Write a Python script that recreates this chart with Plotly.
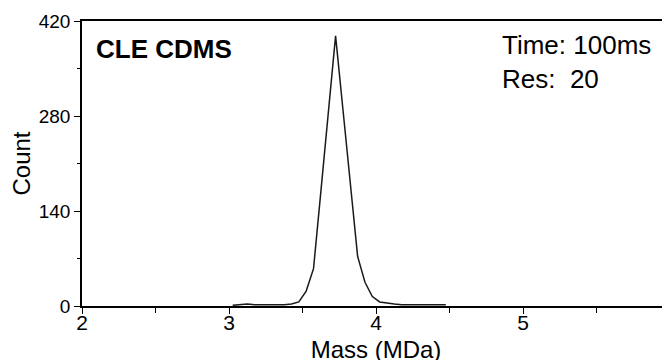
import plotly.graph_objects as go

mass = [3.025, 3.075, 3.125, 3.175, 3.225, 3.275, 3.325, 3.375, 3.425, 3.475,
        3.525, 3.575, 3.625, 3.675, 3.725, 3.775, 3.825, 3.875, 3.925, 3.975,
        4.025, 4.075, 4.125, 4.175, 4.225, 4.275, 4.325, 4.375, 4.425, 4.475]
count = [1, 2, 3, 2, 2, 2, 1, 2, 3, 6,
         22, 55, 169, 284, 398, 290, 182, 73, 35, 14,
         6, 4, 3, 2, 2, 1, 1, 2, 1, 2]

x_ticks = [2, 3, 4, 5, 6]
y_ticks = [0, 140, 280, 420]

FONT = "Arial, Liberation Sans, sans-serif"

fig = go.Figure()
fig.add_trace(go.Scatter(x=mass, y=count, mode="lines",
                         line=dict(color="#1a1a1a", width=1.5),
                         showlegend=False, hoverinfo="skip"))

fig.update_layout(
    width=670, height=360,
    margin=dict(l=74, r=8, t=13, b=62),
    paper_bgcolor="white", plot_bgcolor="white",
    font=dict(family=FONT, color="black"),
    xaxis=dict(range=[2, 6], tickvals=x_ticks, ticktext=[str(v) for v in x_ticks],
               automargin=False,
               showgrid=False, zeroline=False, showline=True, linecolor="black",
               linewidth=1.5, mirror=True, ticks="outside", ticklen=6, tickwidth=1,
               tickcolor="black", tickfont=dict(size=21), ticklabelstandoff=-9,
               minor=dict(ticks="outside", dtick=0.5, ticklen=5, tickcolor="black", tickwidth=1),
               title=dict(text="Mass (MDa)", font=dict(size=24), standoff=8)),
    yaxis=dict(range=[0, 420], tickvals=y_ticks, ticktext=[str(v) for v in y_ticks],
               automargin=False,
               showgrid=False, zeroline=False, showline=True, linecolor="black",
               linewidth=1.5, ticks="outside", ticklen=6, tickwidth=1,
               tickcolor="black", tickfont=dict(size=19),
               minor=dict(ticks="outside", dtick=70, ticklen=3, tickcolor="black", tickwidth=1),
               title=dict(text="Count", font=dict(size=24), standoff=8)),
)

fig.add_annotation(x=0.0204, y=0.9, xref="paper", yref="paper",
                   text="<b>CLE CDMS</b>", showarrow=False,
                   xanchor="left", yanchor="middle", font=dict(size=26, color="black"))
fig.add_annotation(x=0.711, y=0.857, xref="paper", yref="paper",
                   text="Time: 100ms<br>Res:\u00a0 20", showarrow=False, align="left",
                   xanchor="left", yanchor="middle", font=dict(size=26, color="black"))

fig.write_html("out.html")
